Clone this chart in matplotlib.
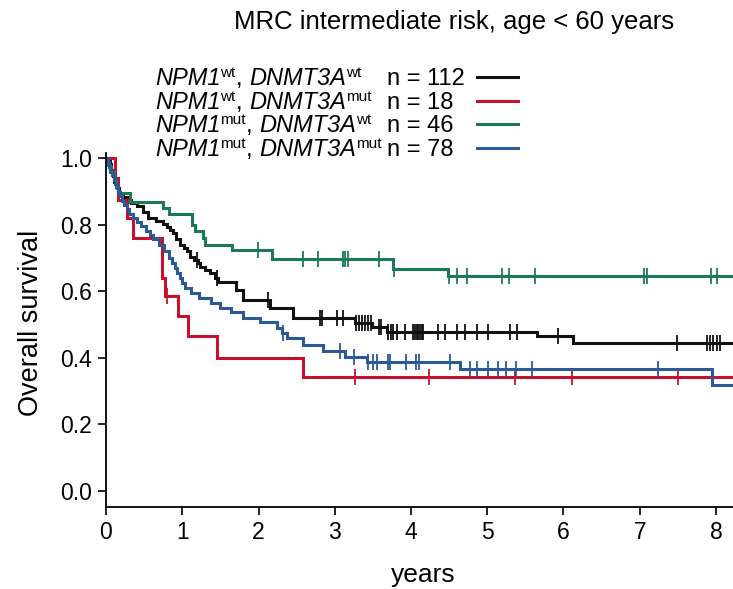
import numpy as np
import matplotlib
matplotlib.use("Agg")
import matplotlib.pyplot as plt
from matplotlib.lines import Line2D

FONT = ['Liberation Sans', 'DejaVu Sans']
plt.rcParams['font.family'] = FONT

title = "MRC intermediate risk, age < 60 years"
x_label = "years"
y_label = "Overall survival"

# legend label parts: (gene1, sup1, gene2, sup2)
group_parts = [("NPM1", "wt", "DNMT3A", "wt"),
               ("NPM1", "wt", "DNMT3A", "mut"),
               ("NPM1", "mut", "DNMT3A", "wt"),
               ("NPM1", "mut", "DNMT3A", "mut")]
group_n = [112, 18, 46, 78]
colors = ['#111111', '#c8102e', '#1a7a55', '#2b5a97']

# --- wt/wt (black) ---
black_t = [0, 0.03, 0.05, 0.07, 0.09, 0.11, 0.14, 0.17, 0.22, 0.28, 0.33, 0.40,
           0.48, 0.55, 0.65, 0.75, 0.80, 0.84, 0.88, 0.92, 0.97, 1.02, 1.06, 1.10,
           1.15, 1.20, 1.23, 1.30, 1.36, 1.43, 1.47, 1.70, 1.80, 2.15, 2.45,
           3.27, 3.49, 3.69, 5.65, 6.12]
black_s = [1.0, 0.991, 0.982, 0.964, 0.946, 0.929, 0.911, 0.893, 0.884, 0.875, 0.866, 0.857,
           0.839, 0.821, 0.812, 0.803, 0.794, 0.785, 0.775, 0.758, 0.740, 0.731, 0.722, 0.703,
           0.694, 0.685, 0.673, 0.664, 0.655, 0.640, 0.628, 0.604, 0.574, 0.550, 0.520,
           0.505, 0.493, 0.478, 0.465, 0.445]
black_c = [1.19, 1.45, 2.12, 2.81, 2.83, 3.03, 3.11, 3.28, 3.32, 3.36, 3.40, 3.44, 3.48,
           3.58, 3.61, 3.70, 3.74, 3.76, 3.82, 3.92, 4.03, 4.05, 4.08, 4.09, 4.12, 4.14,
           4.16, 4.35, 4.45, 4.60, 4.71, 4.87, 5.01, 5.30, 5.39, 5.93, 7.49, 7.88, 7.92,
           7.96, 8.01, 8.05]

# --- wt/mut (red) ---
red_t = [0, 0.12, 0.16, 0.28, 0.36, 0.73, 0.77, 0.94, 1.07, 1.45, 2.58]
red_s = [1.0, 0.94, 0.875, 0.82, 0.76, 0.64, 0.585, 0.525, 0.465, 0.40, 0.342]
red_c = [0.80, 3.26, 4.23, 5.37, 6.11, 7.50]

# --- mut/wt (green) ---
green_t = [0, 0.02, 0.05, 0.10, 0.13, 0.16, 0.31, 0.75, 0.83, 1.13, 1.17, 1.27, 1.30,
           1.65, 2.18, 3.77, 4.48]
green_s = [1.0, 0.978, 0.957, 0.935, 0.913, 0.895, 0.868, 0.85, 0.832, 0.80, 0.78, 0.76, 0.739,
           0.724, 0.697, 0.667, 0.646]
green_c = [1.99, 2.59, 2.78, 3.11, 3.14, 3.17, 3.58, 3.78, 4.50, 4.60, 4.73, 5.19, 5.28,
           5.62, 7.05, 7.09, 7.94, 8.01]

# --- mut/mut (blue) ---
blue_t = [0, 0.02, 0.04, 0.06, 0.08, 0.10, 0.12, 0.14, 0.16, 0.18, 0.21, 0.24, 0.27, 0.30,
          0.35, 0.40, 0.46, 0.52, 0.58, 0.62, 0.70, 0.76, 0.82, 0.86, 0.90, 0.93, 0.97,
          1.00, 1.03, 1.12, 1.22, 1.38, 1.50, 1.64, 1.80, 2.02, 2.24, 2.31, 2.38, 2.58,
          2.84, 3.13, 3.42, 4.64, 7.95]
blue_s = [1.0, 0.987, 0.974, 0.962, 0.949, 0.936, 0.923, 0.910, 0.897, 0.885, 0.872, 0.859,
          0.846, 0.833, 0.820, 0.808, 0.795, 0.782, 0.769, 0.756, 0.740, 0.720, 0.700, 0.685,
          0.670, 0.655, 0.640, 0.625, 0.610, 0.595, 0.580, 0.565, 0.550, 0.537, 0.520, 0.508,
          0.490, 0.474, 0.460, 0.438, 0.420, 0.402, 0.387, 0.366, 0.318]
blue_c = [2.32, 3.07, 3.25, 3.44, 3.50, 3.55, 3.70, 3.72, 3.93, 4.07, 4.10, 4.51, 4.77,
          4.87, 5.01, 5.14, 5.25, 5.38, 5.59, 7.24]

series = [(black_t, black_s, black_c), (red_t, red_s, red_c),
          (green_t, green_s, green_c), (blue_t, blue_s, blue_c)]

x_ticks = [0, 1, 2, 3, 4, 5, 6, 7, 8]
y_ticks = [0.0, 0.2, 0.4, 0.6, 0.8, 1.0]
X_MAX = 8.3

W, H = 733, 589
fig = plt.figure(figsize=(W / 100, H / 100), dpi=100)
ax = fig.add_axes([106/W, 82/H, 1 - 106/W, (507-153)/H])

def surv_at(t_arr, s_arr, tc):
    idx = np.searchsorted(np.asarray(t_arr), tc, side='right') - 1
    return np.asarray(s_arr)[idx]

draw_order = [2, 3, 1, 0]
for i in draw_order:
    t, s, c = series[i]
    tt = list(t) + [X_MAX]
    ss = list(s) + [s[-1]]
    ax.step(tt, ss, where='post', color=colors[i], lw=2.2, zorder=2 + i * 0.1,
            solid_joinstyle='miter')
    cs = surv_at(t, s, np.asarray(c))
    ax.plot(c, cs, linestyle='none', marker='|', markersize=11, mew=1.3,
            color=colors[i], zorder=2 + i * 0.1)

ax.set_xlim(0, (W - 106) / 76.25)
ax.set_ylim((491 - 507) / 333, (491 - 153) / 333)
ax.set_xticks(x_ticks)
ax.set_yticks(y_ticks)
ax.set_xticklabels([str(v) for v in x_ticks])
ax.set_yticklabels([f"{v:.1f}" for v in y_ticks])
ax.spines['top'].set_visible(False)
ax.spines['right'].set_visible(False)
for sp in ['left', 'bottom']:
    ax.spines[sp].set_linewidth(1.3)
ax.tick_params(axis='both', direction='out', length=6, width=1.2, labelsize=16.5, pad=4)
ax.set_xlabel(x_label, fontsize=19)
ax.set_ylabel(y_label, fontsize=19.5)
ax.xaxis.set_label_coords((423 - 106) / 627, (507 - 575) / 354)
ax.xaxis.label.set_va('center')
ax.yaxis.set_label_coords((31 - 106) / 627, (507 - 323) / 354)
ax.yaxis.label.set_va('center')

fig.text(454/W, 1 - 22/H, title, ha='center', va='center', fontsize=18.5)

# legend drawn as rich text pieces
renderer = fig.canvas.get_renderer()

def rich_text(x_px, base_px, pieces):
    x = x_px
    for txt, style, size, dy in pieces:
        t = fig.text(x / W, 1 - (base_px - dy) / H, txt, ha='left', va='baseline',
                     fontsize=size, style=style)
        bb = t.get_window_extent(renderer=renderer)
        x += bb.width

LEG_FS = 17
SUP_FS = 11
SUP_DY = 8
leg_y = [77, 101, 124, 148]
for i in range(4):
    g1, s1, g2, s2 = group_parts[i]
    base = leg_y[i] + 8
    rich_text(155, base, [(g1, 'italic', LEG_FS, 0), (s1, 'normal', SUP_FS, SUP_DY),
                          (", ", 'normal', LEG_FS, 0), (g2, 'italic', LEG_FS, 0),
                          (s2, 'normal', SUP_FS, SUP_DY)])
    fig.text(387 / W, 1 - base / H, f"n = {group_n[i]}", ha='left', va='baseline',
             fontsize=LEG_FS)
    yf = 1 - leg_y[i] / H
    fig.add_artist(Line2D([477/W, 518/W], [yf, yf], color=colors[i], lw=2.2,
                          transform=fig.transFigure))

fig.savefig("out.png", dpi=100)
